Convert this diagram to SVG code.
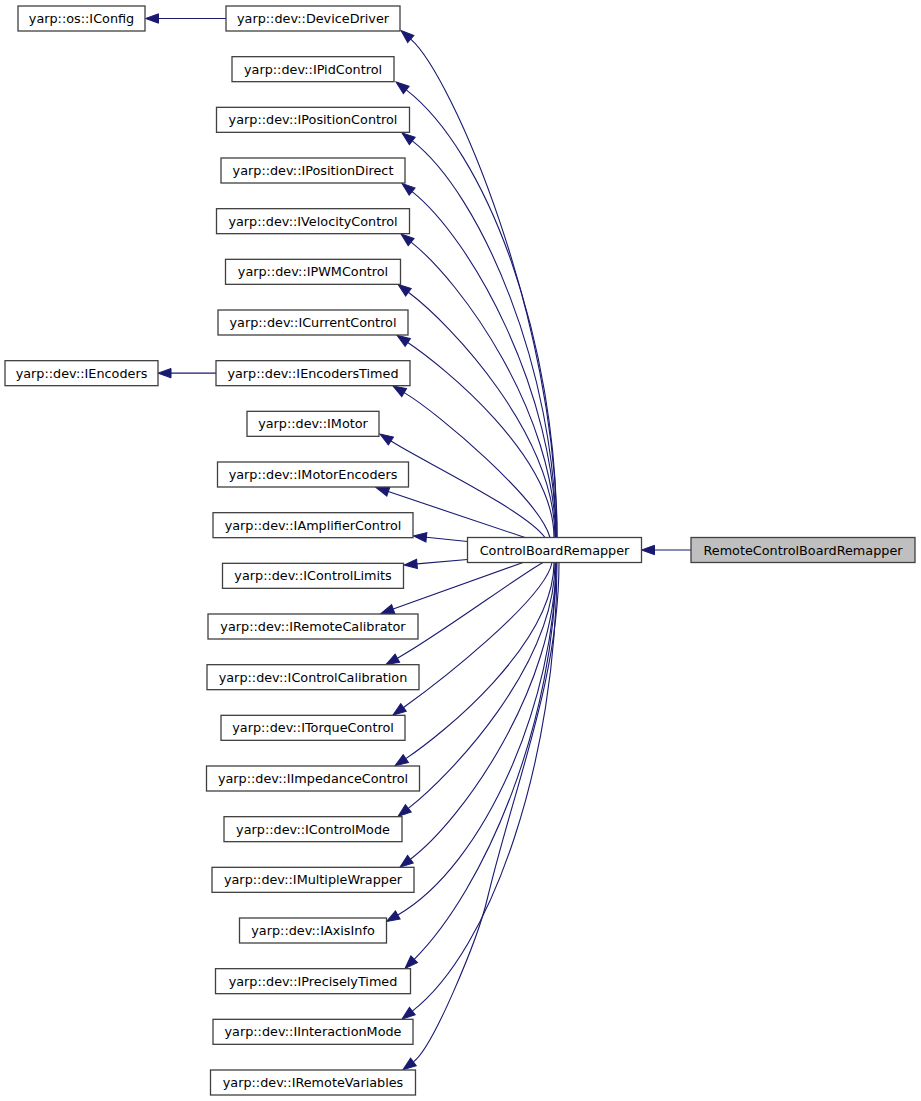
<svg xmlns="http://www.w3.org/2000/svg" width="921" height="1101" viewBox="0 0 921 1101">
<style>
.node rect{fill:#ffffff;stroke:#404040;stroke-width:1.3}
.node.root rect{fill:#bfbfbf}
.node text{font-family:"DejaVu Sans","Liberation Sans",sans-serif;font-size:12.8px;text-anchor:middle;fill:#000000}
.edge{fill:none;stroke:#191970;stroke-width:1.1;marker-start:url(#ah)}
</style>
<defs>
<marker id="ah" markerUnits="userSpaceOnUse" markerWidth="14" markerHeight="10" refX="0" refY="4.7" orient="auto-start-reverse" overflow="visible">
<path d="M0,0 L13,4.7 L0,9.4 Z" fill="#191970" stroke="#191970" stroke-width="1"/>
</marker>
</defs>
<rect width="921" height="1101" fill="#ffffff"/>
<g id="edges">
<path class="edge" d="M654.5,550 L691,550"/>
<path class="edge" d="M158.5,18.5 L226,18.5"/>
<path class="edge" d="M171,373.17 L216,373.17"/>
<path class="edge" d="M410.75,39.08 C452,75.4 557,320 557,537.5"/>
<path class="edge" d="M406.27,89.93 C485.3,150.9 557,337 557,537.5"/>
<path class="edge" d="M412.27,140.93 C481,194 556,371 556,537.5"/>
<path class="edge" d="M412.14,191.56 C471.4,238.7 556,392 556,537.5"/>
<path class="edge" d="M411.14,242.06 C461.8,282.4 555.5,413 555.5,537.5"/>
<path class="edge" d="M408.4,292.3 C451.6,324.7 555,434.6 555,537.5"/>
<path class="edge" d="M407.79,342.58 C443.5,366.7 554,455.6 554,537.5"/>
<path class="edge" d="M404.18,392.63 C438.6,413 540,500 550,537.5"/>
<path class="edge" d="M390.92,441.02 C420.3,459.9 525,510 545,537.5"/>
<path class="edge" d="M388.3,491.6 L525,537.5"/>
<path class="edge" d="M426.4,537.3 L467.5,541.5"/>
<path class="edge" d="M417,563.9 L467.5,559.5"/>
<path class="edge" d="M393.2,609.1 L523,562.5"/>
<path class="edge" d="M397.4,658.2 C436.8,636.4 520,575 543,562.5"/>
<path class="edge" d="M403.5,707.5 C435.9,684.3 545,600 552,562.5"/>
<path class="edge" d="M405.8,758.6 C441.5,734.9 554,644.8 554,562.5"/>
<path class="edge" d="M408.3,808.4 C451,774.9 555,665.8 555,562.5"/>
<path class="edge" d="M410.4,859.2 C462.4,820.2 556,687.2 556,562.5"/>
<path class="edge" d="M397.8,915 C484.8,865 556,700 556,562.5"/>
<path class="edge" d="M414.2,959.3 C485.2,888.3 556,720 556,562.5"/>
<path class="edge" d="M412.3,1011.1 C491.3,950.1 557,760 557,562.5"/>
<path class="edge" d="M413.4,1061.9 C433.4,1046.9 477.8,938.8 487,900 C514.6,783.6 559,680 559,562.5"/>
</g>
<g id="node-RemoteControlBoardRemapper" class="node root"><rect x="691" y="537.5" width="224" height="25"/><text x="803" y="554.5">RemoteControlBoardRemapper</text></g>
<g id="node-ControlBoardRemapper" class="node"><rect x="467.5" y="537.5" width="174" height="25"/><text x="554.5" y="554.5">ControlBoardRemapper</text></g>
<g id="node-IConfig" class="node"><rect x="18" y="6" width="127" height="25"/><text x="81.5" y="23">yarp::os::IConfig</text></g>
<g id="node-IEncoders" class="node"><rect x="5" y="360.67" width="153" height="25"/><text x="81.5" y="377.67">yarp::dev::IEncoders</text></g>
<g id="node-DeviceDriver" class="node"><rect x="226" y="6" width="174" height="25"/><text x="313" y="23">yarp::dev::DeviceDriver</text></g>
<g id="node-IPidControl" class="node"><rect x="232" y="56.67" width="162" height="25"/><text x="313" y="73.67">yarp::dev::IPidControl</text></g>
<g id="node-IPositionControl" class="node"><rect x="216.5" y="107.33" width="193" height="25"/><text x="313" y="124.33">yarp::dev::IPositionControl</text></g>
<g id="node-IPositionDirect" class="node"><rect x="221" y="158" width="184" height="25"/><text x="313" y="175">yarp::dev::IPositionDirect</text></g>
<g id="node-IVelocityControl" class="node"><rect x="216.5" y="208.67" width="193" height="25"/><text x="313" y="225.67">yarp::dev::IVelocityControl</text></g>
<g id="node-IPWMControl" class="node"><rect x="225.5" y="259.33" width="175" height="25"/><text x="313" y="276.33">yarp::dev::IPWMControl</text></g>
<g id="node-ICurrentControl" class="node"><rect x="218" y="310" width="190" height="25"/><text x="313" y="327">yarp::dev::ICurrentControl</text></g>
<g id="node-IEncodersTimed" class="node"><rect x="216" y="360.67" width="194" height="25"/><text x="313" y="377.67">yarp::dev::IEncodersTimed</text></g>
<g id="node-IMotor" class="node"><rect x="247" y="411.33" width="132" height="25"/><text x="313" y="428.33">yarp::dev::IMotor</text></g>
<g id="node-IMotorEncoders" class="node"><rect x="217.5" y="462" width="191" height="25"/><text x="313" y="479">yarp::dev::IMotorEncoders</text></g>
<g id="node-IAmplifierControl" class="node"><rect x="213" y="512.67" width="200" height="25"/><text x="313" y="529.67">yarp::dev::IAmplifierControl</text></g>
<g id="node-IControlLimits" class="node"><rect x="222.5" y="563.33" width="181" height="25"/><text x="313" y="580.33">yarp::dev::IControlLimits</text></g>
<g id="node-IRemoteCalibrator" class="node"><rect x="208" y="614" width="210" height="25"/><text x="313" y="631">yarp::dev::IRemoteCalibrator</text></g>
<g id="node-IControlCalibration" class="node"><rect x="207" y="664.67" width="212" height="25"/><text x="313" y="681.67">yarp::dev::IControlCalibration</text></g>
<g id="node-ITorqueControl" class="node"><rect x="221" y="715.33" width="184" height="25"/><text x="313" y="732.33">yarp::dev::ITorqueControl</text></g>
<g id="node-IImpedanceControl" class="node"><rect x="206.5" y="766" width="213" height="25"/><text x="313" y="783">yarp::dev::IImpedanceControl</text></g>
<g id="node-IControlMode" class="node"><rect x="224" y="816.67" width="178" height="25"/><text x="313" y="833.67">yarp::dev::IControlMode</text></g>
<g id="node-IMultipleWrapper" class="node"><rect x="212" y="867.33" width="202" height="25"/><text x="313" y="884.33">yarp::dev::IMultipleWrapper</text></g>
<g id="node-IAxisInfo" class="node"><rect x="239.5" y="918" width="147" height="25"/><text x="313" y="935">yarp::dev::IAxisInfo</text></g>
<g id="node-IPreciselyTimed" class="node"><rect x="215.5" y="968.67" width="195" height="25"/><text x="313" y="985.67">yarp::dev::IPreciselyTimed</text></g>
<g id="node-IInteractionMode" class="node"><rect x="213" y="1019.33" width="200" height="25"/><text x="313" y="1036.33">yarp::dev::IInteractionMode</text></g>
<g id="node-IRemoteVariables" class="node"><rect x="210.5" y="1070" width="205" height="25"/><text x="313" y="1087">yarp::dev::IRemoteVariables</text></g>
</svg>
